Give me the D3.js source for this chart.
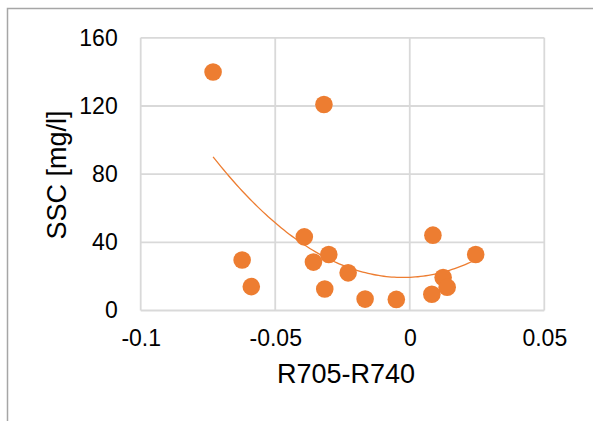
<!DOCTYPE html>
<html>
<head>
<meta charset="utf-8">
<script src="https://cdn.jsdelivr.net/npm/d3@7"></script>
<style>
  html, body { margin: 0; padding: 0; background: #fff; }
  svg { display: block; font-family: "Liberation Sans", Arial, sans-serif; }
</style>
</head>
<body>
<svg id="chart" width="593" height="421"></svg>
<script>
// ---- data ----
const xValues = [-0.0731, -0.0319, -0.0623, -0.0589, -0.0392, -0.0358, -0.0301, -0.0316,
                 -0.0229, -0.0166, -0.0050, 0.0086, 0.0082, 0.0124, 0.0139, 0.0245];
const yValues = [139.9, 120.9, 29.6, 14.0, 43.2, 28.4, 32.9, 12.6,
                 22.1, 6.7, 6.5, 44.2, 9.5, 19.4, 13.6, 32.9];
const xTicks = [-0.1, -0.05, 0, 0.05];
const xTickLabels = ["-0.1", "-0.05", "0", "0.05"];
const yTicks = [0, 40, 80, 120, 160];
const yTickLabels = ["0", "40", "80", "120", "160"];
const xTitle = "R705-R740";
const yTitle = "SSC [mg/l]";

const points = xValues.map((x, i) => ({ x, y: yValues[i] }));

// ---- quadratic least-squares trendline (order 2) ----
function polyFit2(xs, ys) {
  let n = xs.length, s = [0,0,0,0,0], t = [0,0,0];
  for (let i = 0; i < n; i++) {
    const x = xs[i], y = ys[i];
    let p = 1;
    for (let k = 0; k < 5; k++) { s[k] += p; p *= x; }
    t[0] += y; t[1] += y * x; t[2] += y * x * x;
  }
  const M = [[s[0], s[1], s[2], t[0]], [s[1], s[2], s[3], t[1]], [s[2], s[3], s[4], t[2]]];
  for (let c = 0; c < 3; c++) {
    let piv = c;
    for (let r = c + 1; r < 3; r++) if (Math.abs(M[r][c]) > Math.abs(M[piv][c])) piv = r;
    [M[c], M[piv]] = [M[piv], M[c]];
    for (let r = 0; r < 3; r++) {
      if (r === c) continue;
      const f = M[r][c] / M[c][c];
      for (let k = c; k < 4; k++) M[r][k] -= f * M[c][k];
    }
  }
  return [M[0][3] / M[0][0], M[1][3] / M[1][1], M[2][3] / M[2][2]];
}
const coef = polyFit2(xValues, yValues);

// ---- layout ----
const svg = d3.select("#chart");
const orange = "#ed7d31";
const gridColor = "#d9d9d9";

svg.append("rect")
  .attr("x", 7.5).attr("y", 8.5).attr("width", 600).attr("height", 430)
  .attr("fill", "none").attr("stroke", "#a6a6a6").attr("stroke-width", 1.5);

const x = d3.scaleLinear().domain([-0.1, 0.05]).range([140.7, 544.3]);
const y = d3.scaleLinear().domain([0, 160]).range([310.5, 37.8]);

// gridlines
svg.append("g").selectAll("line").data(yTicks).join("line")
  .attr("x1", x.range()[0]).attr("x2", x.range()[1])
  .attr("y1", d => y(d)).attr("y2", d => y(d))
  .attr("stroke", gridColor).attr("stroke-width", 1.8);
svg.append("g").selectAll("line").data(xTicks).join("line")
  .attr("y1", y.range()[0]).attr("y2", y.range()[1])
  .attr("x1", d => x(d)).attr("x2", d => x(d))
  .attr("stroke", gridColor).attr("stroke-width", 1.8);

// axes labels via d3 axes (no domain/tick lines)
const xAxis = d3.axisBottom(x).tickValues(xTicks)
  .tickFormat((d, i) => xTickLabels[i]).tickSize(0).tickPadding(19);
const gx = svg.append("g").attr("transform", `translate(0,${y(0)})`).call(xAxis);
gx.select(".domain").remove();
gx.selectAll("text").attr("font-size", 23).attr("fill", "#000")
  .attr("font-family", "Liberation Sans, Arial, sans-serif");

const yAxis = d3.axisLeft(y).tickValues(yTicks)
  .tickFormat((d, i) => yTickLabels[i]).tickSize(0).tickPadding(23);
const gy = svg.append("g").attr("transform", `translate(${x(-0.1)},0)`).call(yAxis);
gy.select(".domain").remove();
gy.selectAll("text").attr("font-size", 23).attr("fill", "#000")
  .attr("font-family", "Liberation Sans, Arial, sans-serif");

// trendline
const xMin = d3.min(xValues), xMax = d3.max(xValues);
const trend = d3.range(0, 101).map(i => {
  const xv = xMin + (xMax - xMin) * i / 100;
  return [xv, coef[0] + coef[1] * xv + coef[2] * xv * xv];
});
svg.append("path")
  .datum(trend)
  .attr("fill", "none").attr("stroke", orange).attr("stroke-width", 1.3)
  .attr("d", d3.line().x(d => x(d[0])).y(d => y(d[1])));

// points
svg.append("g").selectAll("circle").data(points).join("circle")
  .attr("cx", d => x(d.x)).attr("cy", d => y(d.y)).attr("r", 8.8)
  .attr("fill", orange);

// axis titles
svg.append("text")
  .attr("x", 346).attr("y", 383)
  .attr("text-anchor", "middle").attr("font-size", 27).attr("fill", "#000")
  .text(xTitle);
svg.append("text")
  .attr("transform", "translate(66,175) rotate(-90)")
  .attr("text-anchor", "middle").attr("font-size", 27).attr("fill", "#000")
  .text(yTitle);
</script>
</body>
</html>
